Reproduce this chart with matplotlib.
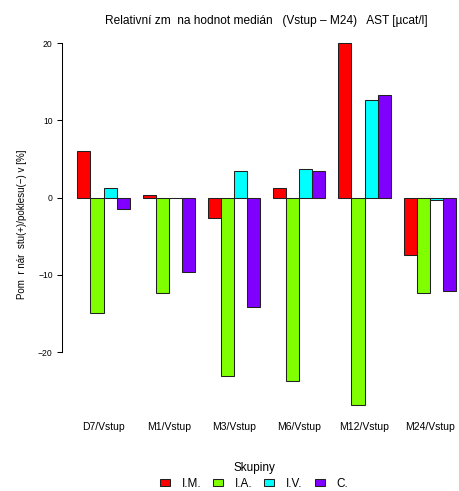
import matplotlib
matplotlib.use("Agg")
import matplotlib.pyplot as plt
from matplotlib.patches import Patch

plt.rcParams['font.family'] = ['Liberation Sans', 'DejaVu Sans']

# relative change of medians (%) per period, per group
periods = ["D7/Vstup", "M1/Vstup", "M3/Vstup", "M6/Vstup", "M12/Vstup", "M24/Vstup"]
groups = ["I.M.", "I.A.", "I.V.", "C."]
colors = ["#FF0000", "#80FF00", "#00FFFF", "#8000FF"]

im = [6.1, 0.3, -2.6, 1.3, 20.0, -7.4]
ia = [-14.9, -12.3, -23.1, -23.7, -26.9, -12.3]
iv = [1.3, 0.0, 3.5, 3.7, 12.6, -0.3]
c = [-1.4, -9.6, -14.1, 3.4, 13.3, -12.1]
series = [im, ia, iv, c]

fig = plt.figure(figsize=(4.59, 4.91), dpi=100)
ax = fig.add_axes([0.1357, 0.1448, 0.8904, 0.7966])

# R-like barplot(beside=TRUE): bars of width 1, one blank unit before each group
for j, vals in enumerate(series):
    xs = [1 + g * 5 + j for g in range(len(periods))]
    ax.bar(xs, vals, width=1, align='edge', color=colors[j],
           edgecolor='#202020', linewidth=0.75)

ax.set_xlim(-0.16, 31.16)
ax.set_ylim(-28.78, 21.88)

for s in ['top', 'right', 'bottom']:
    ax.spines[s].set_visible(False)
ax.spines['left'].set_bounds(-20, 20)
ax.spines['left'].set_linewidth(0.75)

ax.set_yticks([-20, -10, 0, 10, 20])
ax.tick_params(axis='y', labelsize=6.2, length=3.6, width=0.75, pad=3.3)
ax.set_xticks([3 + 5 * g for g in range(len(periods))])
ax.set_xticklabels(periods)
ax.tick_params(axis='x', labelsize=7.5, length=0, pad=1.5)

ax.set_ylabel("Pom  r nár  stu(+)/poklesu(−) v [%]", fontsize=7)
ax.yaxis.set_label_coords(-0.086, 0.5)
ax.set_title("Relativní zm  na hodnot medián   (Vstup – M24)   AST [µcat/l]",
             fontsize=8.6, pad=3.5)

handles = [Patch(facecolor=col, edgecolor='#202020', linewidth=0.75) for col in colors]
leg = fig.legend(handles, groups, title="Skupiny", ncol=4, frameon=False,
                 loc='upper center', bbox_to_anchor=(254 / 459, 1 - 455 / 491),
                 fontsize=8.5, title_fontsize=8.5, handlelength=0.85, handleheight=0.55,
                 handletextpad=1.0, columnspacing=1.0, borderpad=0.1, labelspacing=0.3)

fig.savefig("out.png", dpi=100)
